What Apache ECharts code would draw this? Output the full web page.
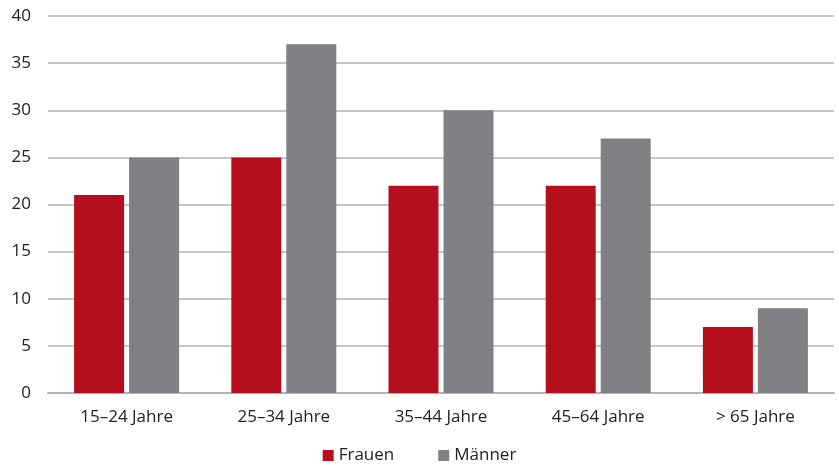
<!DOCTYPE html>
<html>
<head>
<meta charset="utf-8">
<script src="https://cdn.jsdelivr.net/npm/echarts@6/dist/echarts.min.js"></script>
<style>
  html, body { margin: 0; padding: 0; background: #fff; }
  #chart { width: 839px; height: 466px; }
</style>
</head>
<body>
<div id="chart"></div>
<script>
// Altersgruppen und Werte je Geschlecht
const categories = ['15–24 Jahre', '25–34 Jahre', '35–44 Jahre', '45–64 Jahre', '> 65 Jahre'];
const frauen = [21, 25, 22, 22, 7];
const maenner = [25, 37, 30, 27, 9];
const yTicks = { min: 0, max: 40, interval: 5 };

const FONT = '"Open Sans", "Noto Sans", sans-serif';
const TEXT = '#222222';
const chart = echarts.init(document.getElementById('chart'));
chart.setOption({
  animation: false,
  textStyle: { fontFamily: FONT },
  grid: { left: 48, right: 5, top: 16, bottom: 73, containLabel: false },
  legend: {
    bottom: -3,
    left: 'center',
    itemWidth: 11,
    itemHeight: 11,
    itemGap: 44,
    icon: 'rect',
    textStyle: { fontSize: 17, color: TEXT, fontFamily: FONT },
    data: ['Frauen', 'Männer']
  },
  xAxis: {
    type: 'category',
    data: categories,
    axisTick: { show: false },
    axisLine: { lineStyle: { color: '#b3b3b6', width: 2 } },
    axisLabel: { fontSize: 17, color: TEXT, margin: 16, fontFamily: FONT }
  },
  yAxis: {
    type: 'value',
    min: yTicks.min,
    max: yTicks.max,
    interval: yTicks.interval,
    axisLine: { show: false },
    axisTick: { show: false },
    axisLabel: { fontSize: 17, color: TEXT, margin: 17, fontFamily: FONT },
    splitLine: { lineStyle: { color: '#b3b3b6', width: 1.5 } }
  },
  series: [
    {
      name: 'Frauen',
      type: 'bar',
      data: frauen,
      barWidth: 50,
      barGap: '10%',
      itemStyle: { color: '#b50f1e' }
    },
    {
      name: 'Männer',
      type: 'bar',
      data: maenner,
      barWidth: 50,
      itemStyle: { color: '#818185' }
    }
  ]
});
</script>
</body>
</html>
